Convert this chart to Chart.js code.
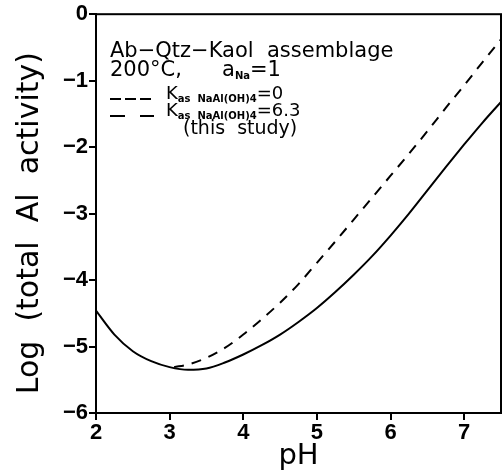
<!DOCTYPE html>
<html>
<head>
<meta charset="utf-8">
<script src="https://cdn.jsdelivr.net/npm/chart.js@4.4.1/dist/chart.umd.min.js"></script>
<style>
  body { margin: 0; background: #fff; }
  #wrap { position: relative; width: 503px; height: 471px; }
  .note { position: absolute; font-family: "DejaVu Sans", sans-serif; color: #000; white-space: pre; line-height: 1; }
  .note sub { font-size: 10px; font-weight: bold; vertical-align: baseline; position: relative; top: 3px; }
</style>
</head>
<body>
<div id="wrap">
  <canvas id="chart" width="503" height="471"></canvas>
  <div class="note" style="left:110px; top:40px; font-size:21px;">Ab−Qtz−Kaol  assemblage</div>
  <div class="note" style="left:110px; top:59px; font-size:21px;">200°C,</div>
  <div class="note" style="left:222px; top:59px; font-size:21px;">a<sub>Na</sub>=1</div>
  <svg class="note" style="left:108px; top:92px;" width="48" height="14">
    <line x1="2" y1="7" x2="46" y2="7" stroke="#000" stroke-width="2" stroke-dasharray="11,4"></line>
  </svg>
  <div class="note" style="left:166px; top:84px; font-size:18px;">K<sub>as  NaAl(OH)4</sub>=0</div>
  <svg class="note" style="left:108px; top:109px;" width="48" height="14">
    <line x1="2" y1="7" x2="46" y2="7" stroke="#000" stroke-width="2" stroke-dasharray="15,15"></line>
  </svg>
  <div class="note" style="left:166px; top:101px; font-size:18px;">K<sub>as  NaAl(OH)4</sub>=6.3</div>
  <div class="note" style="left:183px; top:118px; font-size:19px;">(this  study)</div>
</div>
<script>
// ========== DATA ==========
const xTicks = [2, 3, 4, 5, 6, 7];
const yTicks = [0, -1, -2, -3, -4, -5, -6];

const phSolid = [2.0, 2.25, 2.5, 2.75, 3.0, 3.25, 3.5, 3.75, 4.0, 4.25, 4.5, 4.75,
  5.0, 5.25, 5.5, 5.75, 6.0, 6.25, 6.5, 6.75, 7.0, 7.25, 7.5];
const logAlSolid = [-4.46, -4.82, -5.07, -5.22, -5.31, -5.35, -5.33, -5.24, -5.12, -4.98, -4.82, -4.63,
  -4.42, -4.18, -3.92, -3.64, -3.33, -3.00, -2.65, -2.30, -1.96, -1.63, -1.32];

const phDashed = [3.06, 3.25, 3.5, 3.75, 4.0, 4.25, 4.5, 4.75,
  5.0, 5.25, 5.5, 5.75, 6.0, 6.25, 6.5, 6.75, 7.0, 7.25, 7.5];
const logAlDashed = [-5.31, -5.27, -5.17, -5.02, -4.82, -4.59, -4.34, -4.06,
  -3.74, -3.42, -3.09, -2.76, -2.43, -2.10, -1.76, -1.41, -1.07, -0.72, -0.38];

const toPoints = (xs, ys) => xs.map((x, i) => ({ x, y: ys[i] }));
const minus = (v) => (v < 0 ? "\u2212" + Math.abs(v) : String(v));

// ========== PLUGINS ==========
const frameBox = {
  id: "frameBox",
  afterDatasetsDraw(chart) {
    const { ctx, chartArea: a } = chart;
    ctx.save();
    ctx.strokeStyle = "#000";
    ctx.lineWidth = 2;
    ctx.strokeRect(a.left, a.top, a.right - a.left, a.bottom - a.top);
    ctx.restore();
  },
};

const tickFont = { family: "Liberation Sans", size: 22, weight: "bold" };

// ========== CHART ==========
new Chart(document.getElementById("chart"), {
  type: "scatter",
  data: {
    datasets: [
      {
        data: toPoints(phSolid, logAlSolid),
        showLine: true,
        borderColor: "#000",
        borderWidth: 2,
        pointRadius: 0,
        cubicInterpolationMode: "monotone",
      },
      {
        data: toPoints(phDashed, logAlDashed),
        showLine: true,
        borderColor: "#000",
        borderWidth: 2,
        borderDash: [10, 8],
        pointRadius: 0,
        cubicInterpolationMode: "monotone",
      },
    ],
  },
  options: {
    responsive: false,
    animation: false,
    layout: { padding: { top: 11, right: 2, left: 0, bottom: 0 } },
    plugins: { legend: { display: false }, tooltip: { enabled: false } },
    scales: {
      x: {
        type: "linear",
        min: 2,
        max: 7.5,
        afterBuildTicks: (s) => { s.ticks = xTicks.map((v) => ({ value: v })); },
        afterFit: (s) => { s.height = 58; },
        grid: { drawOnChartArea: false, color: "#000", tickLength: 7, lineWidth: 2 },
        border: { color: "#000", width: 2 },
        ticks: { color: "#000", padding: 0, font: tickFont, callback: (v) => minus(v) },
        title: { display: true, text: "pH", color: "#000", padding: { top: 0, bottom: 0 }, font: { family: "DejaVu Sans", size: 29, lineHeight: 1 } },
      },
      y: {
        type: "linear",
        min: -6,
        max: 0,
        afterBuildTicks: (s) => { s.ticks = yTicks.map((v) => ({ value: v })); },
        afterFit: (s) => { s.width = 96; },
        grid: { drawOnChartArea: false, color: "#000", tickLength: 7, lineWidth: 2 },
        border: { color: "#000", width: 2 },
        ticks: { color: "#000", padding: 1, font: tickFont, callback: (v) => minus(v) },
        title: { display: true, text: "Log  (total  Al  activity)  ", color: "#000", padding: { top: 12, bottom: 0 }, font: { family: "DejaVu Sans", size: 30 } },
      },
    },
  },
  plugins: [frameBox],
});
</script>
</body>
</html>
